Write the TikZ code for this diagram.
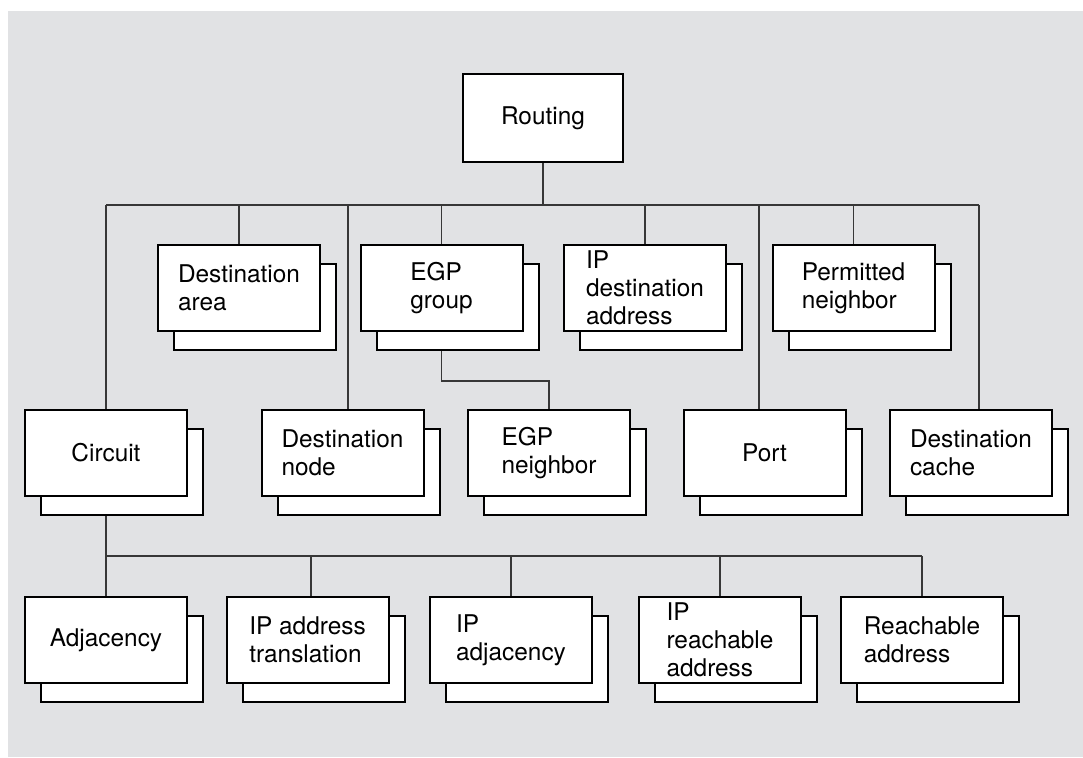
\documentclass[tikz,border=0pt]{standalone}
\usepackage{fontspec}
\setmainfont{TeX Gyre Heros}
\usepackage{tikz}
\usetikzlibrary{positioning}
\usetikzlibrary{shadows,backgrounds}
\definecolor{panelgray}{RGB}{225,226,228}
\definecolor{wiregray}{RGB}{55,55,55}

\begin{document}
\begin{tikzpicture}[x=0.5pt, y=-0.5pt, on grid, entity/.style ={rectangle, draw=black, fill=white, line width=1pt, minimum width=81pt, minimum height=43pt, inner sep=0pt, align=left, font=\fontsize{12.2}{13.9}\selectfont}, stack/.style={entity, copy shadow={shadow xshift=8pt, shadow yshift=-9.25pt}}, wire/.style={draw=wiregray, line width=0.55pt}]
		\useasboundingbox (0,0) rectangle (1083,757);
		% root
		\node[entity, minimum width=80pt, minimum height=44pt] (routing) at (543,118) {Routing};
		% first row
		\node[stack] (darea) at (239,288) {Destination\\area};
		\node[stack] (egpgrp) [right = 101.25pt of darea] {EGP\\group};
		\node[stack] (ipdest) [right = 101.75pt of egpgrp] {IP\\destination\\address};
		\node[stack] (permit) [right = 104.25pt of ipdest] {Permitted\\neighbor};
		% second row
		\node[stack] (circuit) at (106,453) {Circuit};
		\node[stack] (dnode) [right = 118.25pt of circuit] {Destination\\node};
		\node[stack] (egpnbr) [right = 103.25pt of dnode] {EGP\\neighbor};
		\node[stack] (port) [right = 107.75pt of egpnbr] {Port};
		\node[stack] (dcache) [right = 103.25pt of port] {Destination\\cache};
		% third row
		\node[stack] (adjac) [below = 93.5pt of circuit] {Adjacency};
		\node[stack] (iptrans) [right = 100.75pt of adjac] {IP address\\translation};
		\node[stack] (ipadj) [right = 101.75pt of iptrans] {IP\\adjacency};
		\node[stack] (ipreach) [right = 104.5pt of ipadj] {IP\\reachable\\address};
		\node[stack] (reach) [right = 101pt of ipreach] {Reachable\\address};
		% bus lines and taps
		\coordinate (topbus) at (0,205);
		\coordinate (lowbus) at (0,556);
		\coordinate (egpjog) at (0,381);
		\coordinate (dnodetap) at ([xshift=2.75pt]dnode.north);
		\coordinate (porttap) at ([xshift=-2.75pt]port.north);
		\coordinate (dcachetap) at ([xshift=4pt]dcache.north);
		\coordinate (iptranstap) at ([xshift=1.75pt]iptrans.north);
		\begin{scope}[on background layer]
		\fill[panelgray] (8,11) rectangle (1083,757);
		\path[wire] (routing.south) -- (routing.south |- topbus)
		(circuit.north |- topbus) -- (dcachetap |- topbus)
		(circuit.north) -- (circuit.north |- topbus)
		(darea.north) -- (darea.north |- topbus)
		(dnodetap) -- (dnodetap |- topbus)
		(egpgrp.north) -- (egpgrp.north |- topbus)
		(ipdest.north) -- (ipdest.north |- topbus)
		(porttap) -- (porttap |- topbus)
		(permit.north) -- (permit.north |- topbus)
		(dcachetap) -- (dcachetap |- topbus)
		(egpgrp.south) -- (egpgrp.south |- egpjog) -| (egpnbr.north)
		(circuit.south) -- (adjac.north)
		(circuit.south |- lowbus) -- (reach.north |- lowbus)
		(iptranstap) -- (iptranstap |- lowbus)
		(ipadj.north) -- (ipadj.north |- lowbus)
		(ipreach.north) -- (ipreach.north |- lowbus)
		(reach.north) -- (reach.north |- lowbus);
		\end{scope}
\end{tikzpicture}
\end{document}
